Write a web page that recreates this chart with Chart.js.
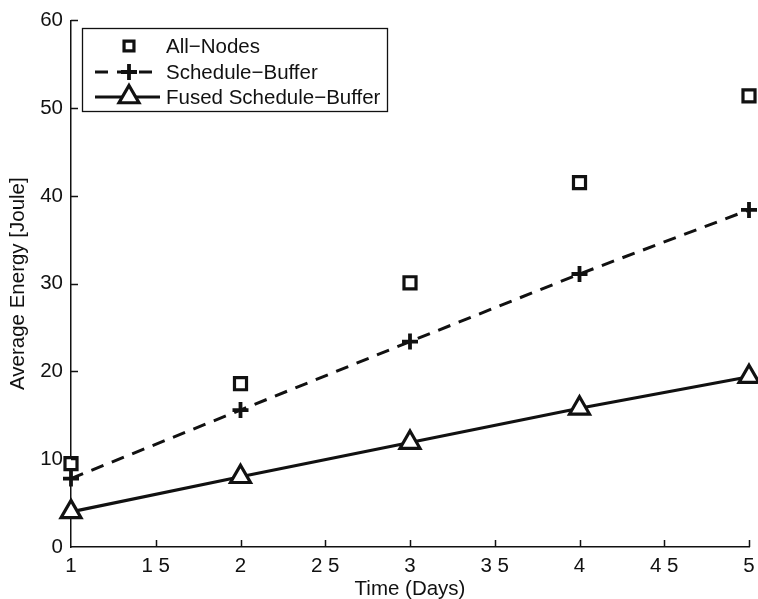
<!DOCTYPE html>
<html>
<head>
<meta charset="utf-8">
<script src="https://cdn.jsdelivr.net/npm/chart.js@4/dist/chart.umd.min.js"></script>
<style>
  html, body { margin: 0; padding: 0; background: #fff; }
  #wrap { width: 758px; height: 599px; position: relative; }
</style>
</head>
<body>
<div id="wrap"><canvas id="c" width="758" height="599"></canvas></div>
<script>
// Average energy per node over the deployment period
const days = [1, 2, 3, 4, 5];
const allNodes = [9.5, 18.6, 30.1, 41.5, 51.4];
const scheduleBuffer = [7.8, 15.6, 23.4, 31.1, 38.4];
const fusedScheduleBuffer = [4.0, 8.0, 11.9, 15.8, 19.4];

const xTickValues = [1, 1.5, 2, 2.5, 3, 3.5, 4, 4.5, 5];
const xTickLabels = ['1', '1 5', '2', '2 5', '3', '3 5', '4', '4 5', '5'];
const yTickValues = [0, 10, 20, 30, 40, 50, 60];
const yTickLabels = ['0', '10', '20', '30', '40', '50', '60'];

const seriesNames = ['All\u2212Nodes', 'Schedule\u2212Buffer', 'Fused Schedule\u2212Buffer'];
const xTitle = 'Time (Days)';
const yTitle = 'Average Energy [Joule]';

const FONT = '"Liberation Sans", Arial, Helvetica, sans-serif';
const INK = '#111';
const FS = 20.5;

const toPoints = (vals) => days.map((d, i) => ({ x: d, y: vals[i] }));

// Inward-pointing tick marks on the left and bottom axes
const innerTicks = {
  id: 'innerTicks',
  afterDatasetsDraw(chart) {
    const { ctx, scales: { x, y } } = chart;
    const len = 7;
    ctx.save();
    ctx.strokeStyle = INK;
    ctx.lineWidth = 1.5;
    ctx.beginPath();
    xTickValues.forEach(v => {
      if (v === x.min) return;
      const px = Math.round(x.getPixelForValue(v)) + 0.5;
      ctx.moveTo(px, y.bottom);
      ctx.lineTo(px, y.bottom - len);
    });
    yTickValues.forEach(v => {
      if (v === y.min) return;
      const py = Math.round(y.getPixelForValue(v)) + 0.5;
      ctx.moveTo(x.left, py);
      ctx.lineTo(x.left + len, py);
    });
    ctx.stroke();
    ctx.restore();
  }
};

function drawMarker(ctx, style, cx, cy, r) {
  ctx.beginPath();
  if (style === 'rect') {
    const h = r * Math.SQRT1_2;
    ctx.rect(cx - h, cy - h, 2 * h, 2 * h);
    ctx.fill(); ctx.stroke();
  } else if (style === 'cross') {
    ctx.moveTo(cx - r, cy); ctx.lineTo(cx + r, cy);
    ctx.moveTo(cx, cy - r); ctx.lineTo(cx, cy + r);
    ctx.stroke();
  } else if (style === 'triangle') {
    for (let k = 0; k < 3; k++) {
      const a = k * 2 * Math.PI / 3;
      const px = cx + Math.sin(a) * r, py = cy - Math.cos(a) * r;
      if (k === 0) ctx.moveTo(px, py); else ctx.lineTo(px, py);
    }
    ctx.closePath();
    ctx.fill(); ctx.stroke();
  }
}

// Boxed legend inside the plot area, upper left
const boxLegend = {
  id: 'boxLegend',
  afterDraw(chart) {
    const { ctx } = chart;
    const box = { x: 82, y: 28, w: 305, h: 83 };
    ctx.save();
    ctx.fillStyle = '#fff';
    ctx.fillRect(box.x, box.y, box.w, box.h);
    ctx.strokeStyle = INK;
    ctx.lineWidth = 1.3;
    ctx.strokeRect(box.x + 0.5, box.y + 0.5, box.w, box.h);

    const rowsY = [46, 72, 97];
    const lineX0 = 95, lineX1 = 160, markX = 129, textX = 166;
    chart.data.datasets.forEach((ds, i) => {
      const yy = rowsY[i];
      ctx.strokeStyle = INK;
      ctx.fillStyle = '#fff';
      if (ds.showLine !== false) {
        ctx.save();
        ctx.lineWidth = ds.borderWidth;
        ctx.setLineDash(ds.borderDash || []);
        ctx.beginPath();
        ctx.moveTo(lineX0, yy);
        ctx.lineTo(lineX1, yy);
        ctx.stroke();
        ctx.restore();
      }
      ctx.lineWidth = ds.pointBorderWidth;
      ctx.setLineDash([]);
      drawMarker(ctx, ds.pointStyle, markX, yy, ds.legendRadius);
      ctx.fillStyle = INK;
      ctx.font = FS + 'px ' + FONT;
      ctx.textBaseline = 'middle';
      ctx.textAlign = 'left';
      ctx.fillText(ds.label, textX, yy + 1);
    });
    ctx.restore();
  }
};

new Chart(document.getElementById('c'), {
  type: 'scatter',
  data: {
    datasets: [
      {
        label: seriesNames[0],
        data: toPoints(allNodes),
        showLine: false,
        pointStyle: 'rect',
        pointRadius: 8.5,
        pointBorderWidth: 3.2,
        legendRadius: 7,
        borderColor: INK,
        backgroundColor: '#fff',
        pointBackgroundColor: '#fff',
        pointBorderColor: INK,
        clip: false
      },
      {
        label: seriesNames[1],
        data: toPoints(scheduleBuffer),
        showLine: true,
        borderColor: INK,
        borderWidth: 3,
        borderDash: [13, 9],
        pointStyle: 'cross',
        pointRadius: 8,
        pointBorderWidth: 3.8,
        legendRadius: 8,
        pointBorderColor: INK,
        pointBackgroundColor: '#fff',
        backgroundColor: '#fff',
        tension: 0,
        clip: false
      },
      {
        label: seriesNames[2],
        data: toPoints(fusedScheduleBuffer),
        showLine: true,
        borderColor: INK,
        borderWidth: 3.2,
        pointStyle: 'triangle',
        pointRadius: 11.5,
        pointBorderWidth: 3.2,
        legendRadius: 11.5,
        pointBorderColor: INK,
        pointBackgroundColor: '#fff',
        backgroundColor: '#fff',
        tension: 0,
        clip: false
      }
    ]
  },
  options: {
    responsive: false,
    animation: false,
    devicePixelRatio: 1,
    layout: { autoPadding: false, padding: { top: 19, right: 9, left: 0, bottom: 0 } },
    plugins: {
      legend: { display: false },
      tooltip: { enabled: false }
    },
    scales: {
      x: {
        type: 'linear',
        min: 1,
        max: 5,
        afterBuildTicks(scale) { scale.ticks = xTickValues.map(v => ({ value: v })); },
        afterFit(scale) {
          scale.height = 52;
          scale.paddingLeft = 0;
          scale.paddingRight = 0;
        },
        grid: { display: true, drawOnChartArea: false, drawTicks: false },
        border: { display: true, color: INK, width: 1.5 },
        ticks: {
          padding: 7,
          color: INK,
          font: { family: FONT, size: FS },
          maxRotation: 0,
          autoSkip: false,
          callback: (v) => xTickLabels[xTickValues.indexOf(v)]
        },
        title: {
          display: true,
          text: xTitle,
          color: INK,
          font: { family: FONT, size: FS, lineHeight: 0.9 },
          padding: { top: 0, bottom: 0 }
        }
      },
      y: {
        type: 'linear',
        min: 0,
        max: 60,
        afterBuildTicks(scale) { scale.ticks = yTickValues.map(v => ({ value: v })); },
        afterFit(scale) { scale.width = 71; },
        grid: { display: true, drawOnChartArea: false, drawTicks: false },
        border: { display: true, color: INK, width: 1.5 },
        ticks: {
          padding: 8,
          color: INK,
          font: { family: FONT, size: FS },
          autoSkip: false,
          callback: (v) => yTickLabels[yTickValues.indexOf(v)]
        },
        title: {
          display: true,
          text: yTitle,
          color: INK,
          font: { family: FONT, size: FS },
          padding: { top: 6, bottom: 0 }
        }
      }
    }
  },
  plugins: [innerTicks, boxLegend]
});
</script>
</body>
</html>
